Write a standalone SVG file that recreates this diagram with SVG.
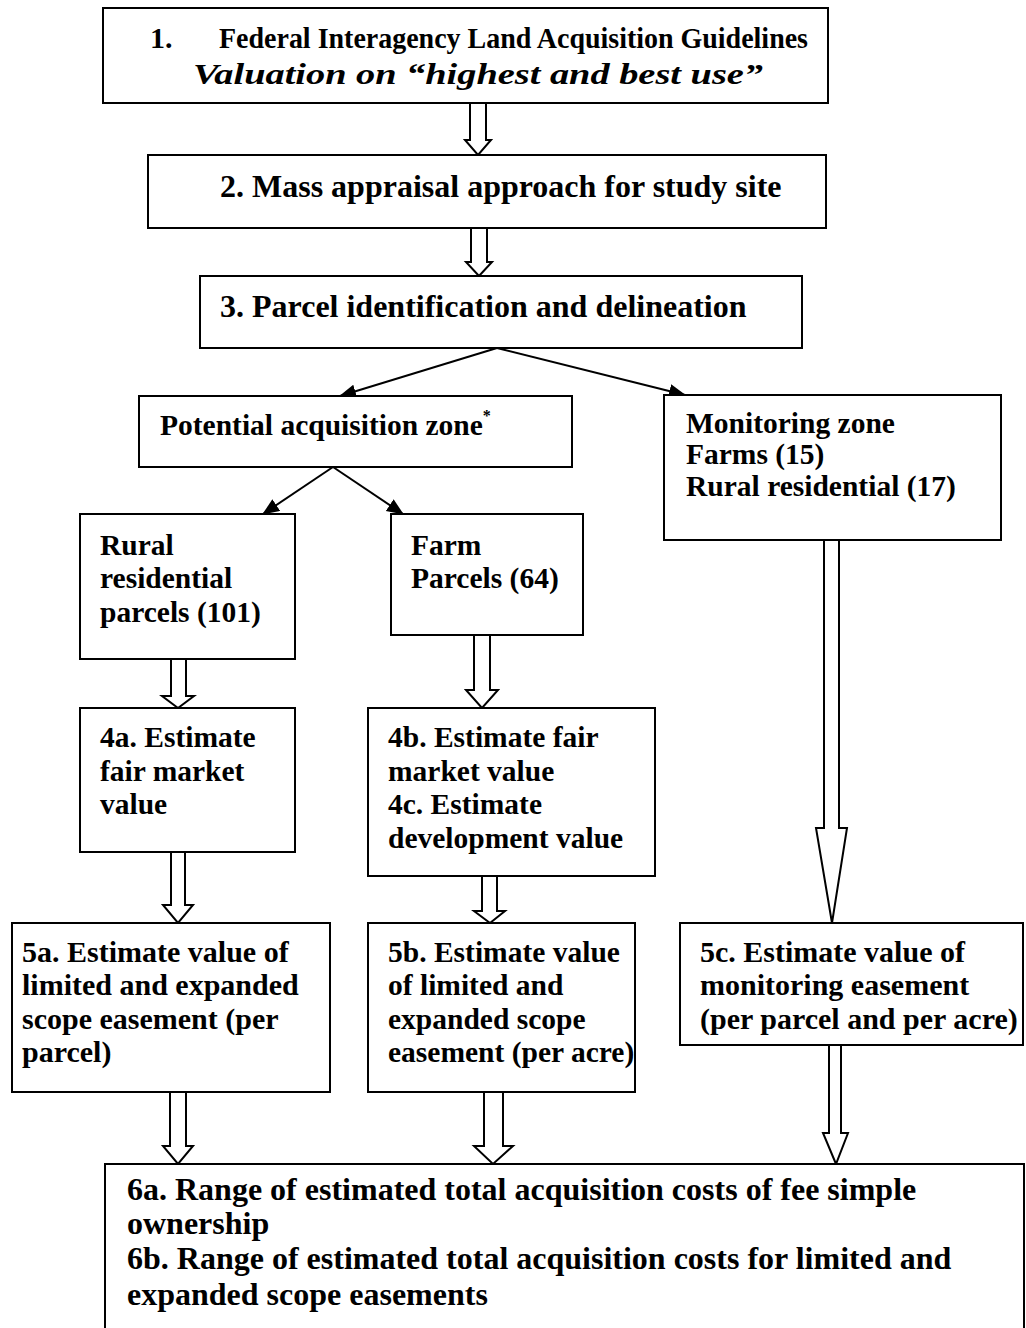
<svg xmlns="http://www.w3.org/2000/svg" width="1026" height="1328" viewBox="0 0 1026 1328">
<style>
.box{fill:#fff;stroke:#000;stroke-width:2}
.t{font-family:"Liberation Serif","Times New Roman",serif;font-weight:bold;font-size:29.5px;fill:#000}
.l{font-size:32px}
.m{font-size:30px}
.h{font-size:30px}
.i{font-style:italic}
.blk{fill:#fff;stroke:#000;stroke-width:2;stroke-linejoin:miter}
.ln{stroke:#000;stroke-width:2;fill:none}
</style>
<defs>
<marker id="ah" markerUnits="userSpaceOnUse" markerWidth="20" markerHeight="16" refX="16" refY="7" orient="auto">
<path d="M0,0 L17,7 L0,14 Z" fill="#000"/>
</marker>
</defs>
<rect width="1026" height="1328" fill="#fff"/>

<g id="connectors">
<line class="ln" x1="497" y1="348" x2="340" y2="396" marker-end="url(#ah)"/>
<line class="ln" x1="497" y1="348" x2="685" y2="395" marker-end="url(#ah)"/>
<line class="ln" x1="333" y1="467" x2="263" y2="514" marker-end="url(#ah)"/>
<line class="ln" x1="333" y1="467" x2="403" y2="514" marker-end="url(#ah)"/>
<polygon class="blk" points="470,103 486,103 486,140 491,140 478,155 465,140 470,140"/>
<polygon class="blk" points="471,228 487,228 487,262 492,262 479,276 466,262 471,262"/>
<polygon class="blk" points="171,659 186,659 186,696 194,696 178,708 162,696 171,696"/>
<polygon class="blk" points="474,635 490,635 490,690 498,690 482,708 466,690 474,690"/>
<polygon class="blk" points="171,852 185,852 185,905 193,905 178,923 163,905 171,905"/>
<polygon class="blk" points="482,876 497,876 497,911 505,911 490,923 474,911 482,911"/>
<polygon class="blk" points="824,540 839,540 839,828 847,828 832,923 816,828 824,828"/>
<polygon class="blk" points="170,1092 186,1092 186,1146 193,1146 178,1164 163,1146 170,1146"/>
<polygon class="blk" points="484,1092 503,1092 503,1146 513,1146 493,1164 474,1146 484,1146"/>
<polygon class="blk" points="829,1045 841,1045 841,1133 848,1133 836,1164 823,1133 829,1133"/>
</g>

<g id="n1">
<rect class="box" x="103" y="8" width="725" height="95"/>
<text class="t h" x="150" y="48">1.</text>
<text class="t h" x="219" y="48" textLength="589" lengthAdjust="spacingAndGlyphs">Federal Interagency Land Acquisition Guidelines</text>
<text class="t i" x="193" y="84" font-size="33" textLength="570" lengthAdjust="spacingAndGlyphs">Valuation on “highest and best use”</text>
</g>
<g id="n2">
<rect class="box" x="148" y="155" width="678" height="73"/>
<text class="t l" x="220" y="197">2. Mass appraisal approach for study site</text>
</g>
<g id="n3">
<rect class="box" x="200" y="276" width="602" height="72"/>
<text class="t l" x="220" y="317">3. Parcel identification and delineation</text>
</g>
<g id="potential">
<rect class="box" x="139" y="396" width="433" height="71"/>
<text class="t" x="160" y="435">Potential acquisition zone<tspan font-size="16" dy="-14">*</tspan></text>
</g>
<g id="monitoring">
<rect class="box" x="664" y="395" width="337" height="145"/>
<text class="t" x="686" y="433">Monitoring zone</text>
<text class="t" x="686" y="464" font-size="25.5">Farms (15)</text>
<text class="t" x="686" y="496" font-size="26.5">Rural residential (17)</text>
</g>
<g id="rural">
<rect class="box" x="80" y="514" width="215" height="145"/>
<text class="t" x="100" y="555">Rural</text>
<text class="t" x="100" y="588">residential</text>
<text class="t" x="100" y="622">parcels (101)</text>
</g>
<g id="farm">
<rect class="box" x="391" y="514" width="192" height="121"/>
<text class="t" x="411" y="555">Farm</text>
<text class="t" x="411" y="588">Parcels (64)</text>
</g>
<g id="n4a">
<rect class="box" x="80" y="708" width="215" height="144"/>
<text class="t" x="100" y="747">4a. Estimate</text>
<text class="t" x="100" y="781">fair market</text>
<text class="t" x="100" y="814">value</text>
</g>
<g id="n4b">
<rect class="box" x="368" y="708" width="287" height="168"/>
<text class="t" x="388" y="747">4b. Estimate fair</text>
<text class="t" x="388" y="781">market value</text>
<text class="t" x="388" y="814">4c. Estimate</text>
<text class="t" x="388" y="848">development value</text>
</g>
<g id="n5a">
<rect class="box" x="12" y="923" width="318" height="169"/>
<text class="t m" x="22" y="962">5a. Estimate value of</text>
<text class="t m" x="22" y="995">limited and expanded</text>
<text class="t m" x="22" y="1029">scope easement (per</text>
<text class="t m" x="22" y="1062">parcel)</text>
</g>
<g id="n5b">
<rect class="box" x="368" y="923" width="267" height="169"/>
<text class="t" x="388" y="962">5b. Estimate value</text>
<text class="t" x="388" y="995">of limited and</text>
<text class="t" x="388" y="1029">expanded scope</text>
<text class="t" x="388" y="1062">easement (per acre)</text>
</g>
<g id="n5c">
<rect class="box" x="680" y="923" width="343" height="122"/>
<text class="t m" x="700" y="962">5c. Estimate value of</text>
<text class="t m" x="700" y="995">monitoring easement</text>
<text class="t m" x="700" y="1029">(per parcel and per acre)</text>
</g>
<g id="n6">
<rect class="box" x="105" y="1164" width="919" height="170"/>
<text class="t l" x="127" y="1200">6a. Range of estimated total acquisition costs of fee simple</text>
<text class="t l" x="127" y="1234">ownership</text>
<text class="t l" x="127" y="1269">6b. Range of estimated total acquisition costs for limited and</text>
<text class="t l" x="127" y="1305">expanded scope easements</text>
</g>
</svg>
